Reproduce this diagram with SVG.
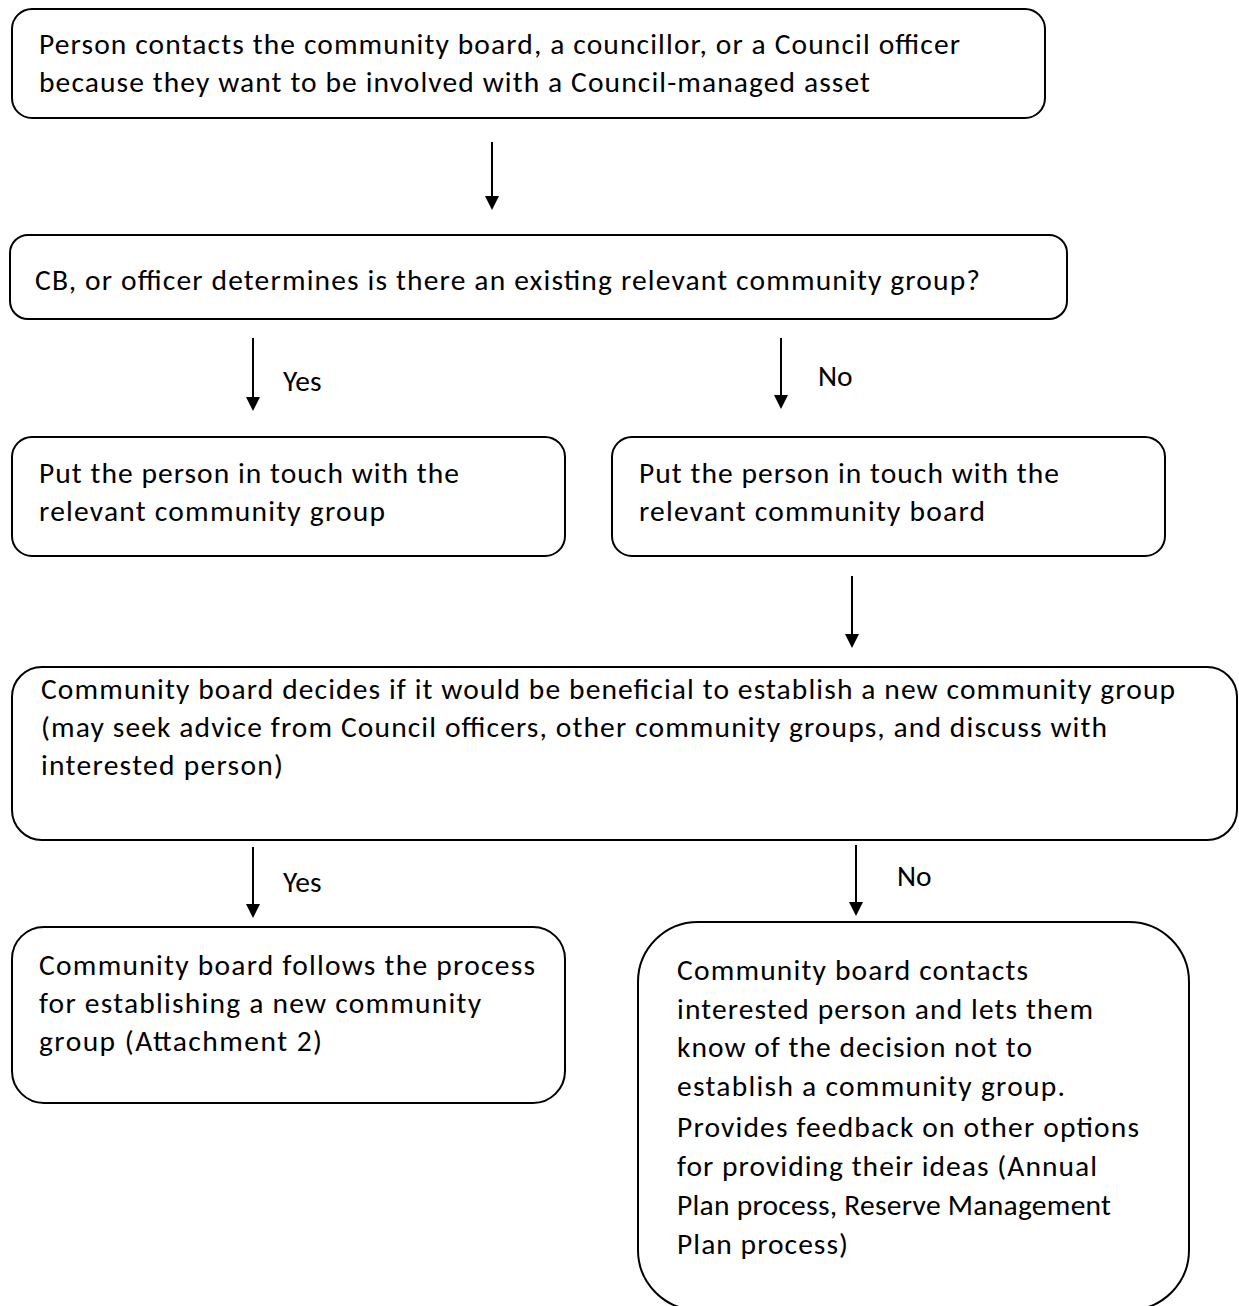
<svg xmlns="http://www.w3.org/2000/svg" width="1239" height="1306" viewBox="0 0 1239 1306">
<style>
.box{fill:#fff;stroke:#000;stroke-width:2}
.t{font-family:Carlito,Lato,"Open Sans",sans-serif;font-size:29.5px;fill:#000}
.c{stroke:#000;stroke-width:2;fill:none}
.h{fill:#000}
</style>
<rect width="1239" height="1306" fill="#fff"/>
<g id="connectors">
<path class="c" d="M492,142 V196"/><path class="h" d="M485,196 L499,196 L492,210 Z"/>
<path class="c" d="M253,338 V397"/><path class="h" d="M246,397 L260,397 L253,411 Z"/>
<path class="c" d="M781,338 V395"/><path class="h" d="M774,395 L788,395 L781,409 Z"/>
<path class="c" d="M852,576 V634"/><path class="h" d="M845,634 L859,634 L852,648 Z"/>
<path class="c" d="M253,847 V904"/><path class="h" d="M246,904 L260,904 L253,918 Z"/>
<path class="c" d="M856,845 V902"/><path class="h" d="M849,902 L863,902 L856,916 Z"/>
<text class="t" x="283" y="391">Yes</text>
<text class="t" x="818" y="386">No</text>
<text class="t" x="283" y="892">Yes</text>
<text class="t" x="897" y="886">No</text>
</g>
<g id="n1">
<rect class="box" x="12" y="9" width="1033" height="109" rx="20"/>
<text class="t" x="39" y="54" textLength="921" lengthAdjust="spacing">Person contacts the community board, a councillor, or a Council officer</text>
<text class="t" x="39" y="92" textLength="831" lengthAdjust="spacing">because they want to be involved with a Council-managed asset</text>
</g>
<g id="n2">
<rect class="box" x="10" y="235" width="1057" height="84" rx="18"/>
<text class="t" x="35" y="290" textLength="945" lengthAdjust="spacing">CB, or officer determines is there an existing relevant community group?</text>
</g>
<g id="n3">
<rect class="box" x="12" y="437" width="553" height="119" rx="20"/>
<text class="t" x="39" y="483" textLength="420" lengthAdjust="spacing">Put the person in touch with the</text>
<text class="t" x="39" y="521" textLength="346" lengthAdjust="spacing">relevant community group</text>
</g>
<g id="n4">
<rect class="box" x="612" y="437" width="553" height="119" rx="20"/>
<text class="t" x="639" y="483" textLength="420" lengthAdjust="spacing">Put the person in touch with the</text>
<text class="t" x="639" y="521" textLength="346" lengthAdjust="spacing">relevant community board</text>
</g>
<g id="n5">
<rect class="box" x="12" y="667" width="1225" height="173" rx="30"/>
<text class="t" x="41" y="699" textLength="1134" lengthAdjust="spacing">Community board decides if it would be beneficial to establish a new community group</text>
<text class="t" x="41" y="737" textLength="1066" lengthAdjust="spacing">(may seek advice from Council officers, other community groups, and discuss with</text>
<text class="t" x="41" y="775" textLength="242" lengthAdjust="spacing">interested person)</text>
</g>
<g id="n6">
<rect class="box" x="12" y="927" width="553" height="176" rx="32"/>
<text class="t" x="39" y="975" textLength="496" lengthAdjust="spacing">Community board follows the process</text>
<text class="t" x="39" y="1013" textLength="442" lengthAdjust="spacing">for establishing a new community</text>
<text class="t" x="39" y="1051" textLength="283" lengthAdjust="spacing">group (Attachment 2)</text>
</g>
<g id="n7">
<rect class="box" x="638" y="922" width="551" height="388" rx="60"/>
<text class="t" x="677" y="980" textLength="351" lengthAdjust="spacing">Community board contacts</text>
<text class="t" x="677" y="1019" textLength="416" lengthAdjust="spacing">interested person and lets them</text>
<text class="t" x="677" y="1057" textLength="355" lengthAdjust="spacing">know of the decision not to</text>
<text class="t" x="677" y="1096" textLength="388" lengthAdjust="spacing">establish a community group.</text>
<text class="t" x="677" y="1137" textLength="462" lengthAdjust="spacing">Provides feedback on other options</text>
<text class="t" x="677" y="1176" textLength="420" lengthAdjust="spacing">for providing their ideas (Annual</text>
<text class="t" x="677" y="1215" textLength="434" lengthAdjust="spacing">Plan process, Reserve Management</text>
<text class="t" x="677" y="1254" textLength="171" lengthAdjust="spacing">Plan process)</text>
</g>
</svg>
